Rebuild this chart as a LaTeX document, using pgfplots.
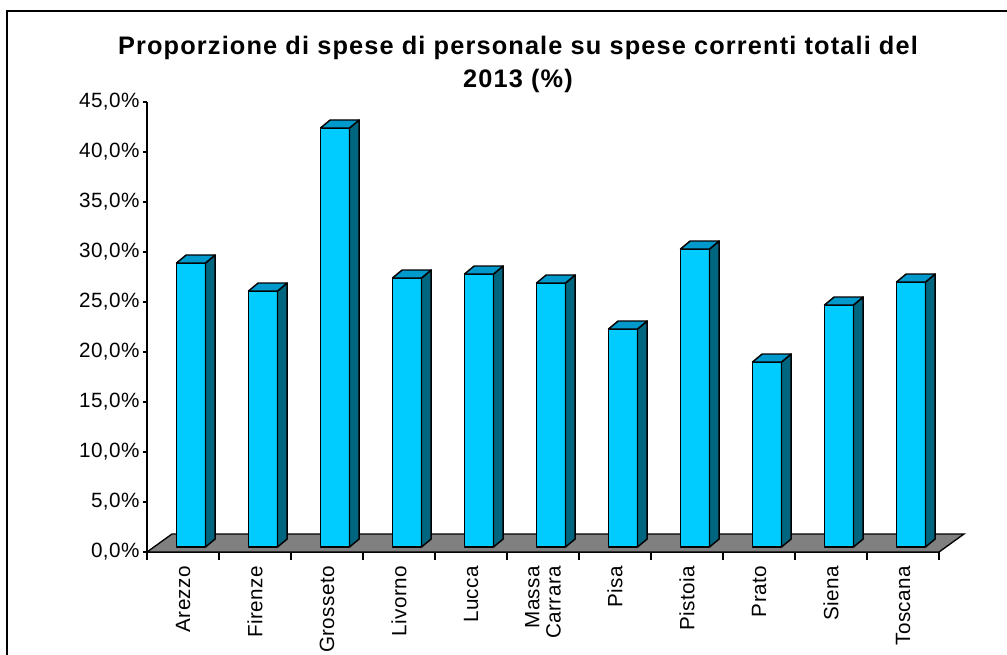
\documentclass[border=0pt]{standalone}
\usepackage{fontspec}
\setmainfont{Liberation Sans}
\newfontfamily\titlefont[LetterSpace=4.5]{Liberation Sans}
\newfontfamily\lblfont[LetterSpace=2]{Liberation Sans}
\usepackage{pgfplots}
\usepackage{pgfplotstable}
\pgfplotsset{compat=1.18}
\definecolor{frontcol}{HTML}{00CCFF}
\definecolor{topcol}{HTML}{0099CC}
\definecolor{sidecol}{HTML}{006680}
\definecolor{floorcol}{HTML}{808080}

\pgfdeclareplotmark{box3d}{%
  \pgfmathsetlengthmacro\hh{\rawy*7.5pt}%
  \pgfpathmoveto{\pgfpoint{10.875pt}{0pt}}%
  \pgfpathlineto{\pgfpoint{18.125pt}{6pt}}%
  \pgfpathlineto{\pgfpoint{18.125pt}{6pt-\hh}}%
  \pgfpathlineto{\pgfpoint{10.875pt}{-\hh}}%
  \pgfpathclose
  \pgfsetfillcolor{sidecol}%
  \pgfusepath{fill,stroke}%
  \pgfpathmoveto{\pgfpoint{-10.875pt}{0pt}}%
  \pgfpathlineto{\pgfpoint{10.875pt}{0pt}}%
  \pgfpathlineto{\pgfpoint{18.125pt}{6pt}}%
  \pgfpathlineto{\pgfpoint{-3.625pt}{6pt}}%
  \pgfpathclose
  \pgfsetfillcolor{topcol}%
  \pgfusepath{fill,stroke}%
}

\pgfplotstableread{
x v
0 28.4
1 25.6
2 41.9
3 26.9
4 27.3
5 26.4
6 21.8
7 29.8
8 18.5
9 24.2
10 26.5
}\datatable

\begin{document}
\begin{tikzpicture}
\begin{axis}[
  at={(110.25pt,76.5pt)}, anchor=south west,
  x=54pt, y=7.5pt,
  xmin=-0.5, xmax=10.5, ymin=0, ymax=45,
  axis lines*=left,
  axis line style={line width=1pt, black},
  clip=false,
  ytick={0,5,...,45},
  yticklabel={\pgfmathprintnumber[fixed,fixed zerofill,precision=1,use comma]{\tick}\%},
  /pgf/number format/assume math mode=true,
  xtick={0,...,10},
  xticklabels={Arezzo,Firenze,Grosseto,Livorno,Lucca,{Massa\\Carrara},Pisa,Pistoia,Prato,Siena,Toscana},
  minor xtick={-0.5,0.5,...,10.5},
  tick align=outside,
  major tick length=3pt, minor tick length=6pt,
  tick style={black, line width=0.8pt},
  major x tick style={draw=none},
  ticklabel style={font=\lblfont\fontsize{15.5}{16}\selectfont},
  yticklabel style={inner sep=2.5pt},
  xticklabel style={rotate=90, anchor=east, align=right},
  xticklabel shift=4pt,
]
\addplot[fill=floorcol, draw=black, line width=1pt] coordinates {(-0.5,0) (10.5,0) (10.847,1.8) (-0.153,1.8)} -- cycle;
\addplot[ybar, bar width=21.75pt, bar shift=0pt, fill=frontcol, draw=black, line width=1.1pt, line join=round, xshift=6pt, yshift=3.75pt] table[x=x, y=v] {\datatable};
\addplot[only marks, mark=box3d, xshift=6pt, yshift=3.75pt,
  visualization depends on={rawy \as \rawy},
  mark options={draw=black, line width=1.1pt, line join=round}] table[x=x, y=v] {\datatable};
\end{axis}
\node[anchor=base, font=\titlefont\bfseries\fontsize{19}{21}\selectfont] at (388.5pt,449.25pt) {Proporzione di spese di personale su spese correnti totali del};
\node[anchor=base, font=\titlefont\bfseries\fontsize{19}{21}\selectfont] at (388.5pt,424.5pt) {2013 (\%)};
\draw[line width=1pt, black] (5.25pt,-20pt) -- (5.25pt,482.25pt) -- (780pt,482.25pt);
\pgfresetboundingbox
\path[use as bounding box] (0,0) rectangle (755.25pt,490.5pt);
\end{tikzpicture}
\end{document}
